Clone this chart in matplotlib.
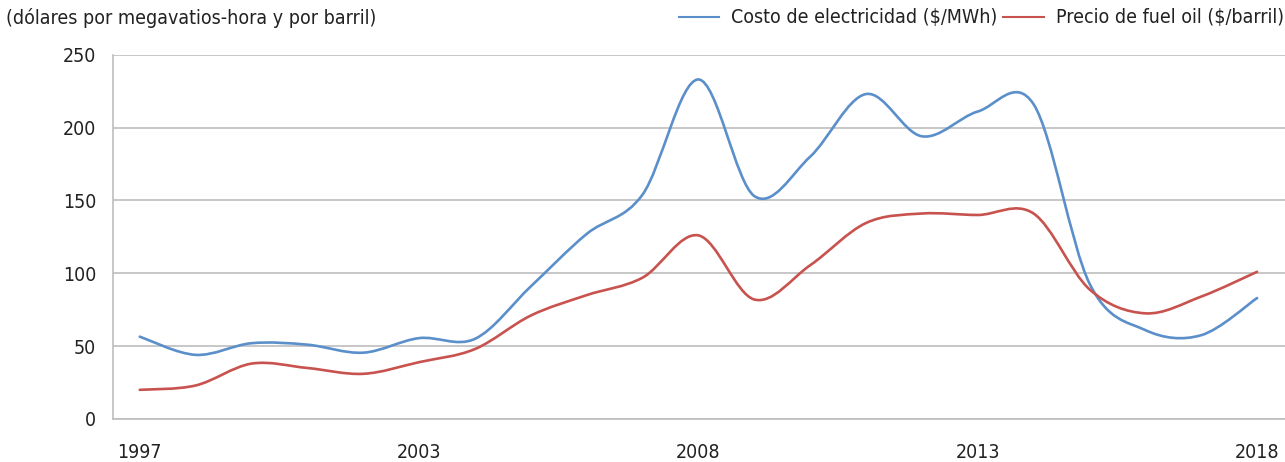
import matplotlib
matplotlib.use('Agg')
import matplotlib.pyplot as plt
from matplotlib.path import Path
from matplotlib.patches import PathPatch
from matplotlib.lines import Line2D
import numpy as np

plt.rcParams['font.family'] = ['Liberation Sans Narrow', 'DejaVu Sans']
plt.rcParams['font.stretch'] = 'condensed'

# category axis: 21 points, labelled every 5th
categories = ['1997', '', '', '', '', '2003', '', '', '', '', '2008',
              '', '', '', '', '2013', '', '', '', '', '2018']
electricidad = [56.5, 44, 52, 51, 45.5, 55.5, 55, 91, 127, 154, 233,
                153, 180, 223, 194, 211, 216, 93, 61, 57.5, 83]
fuel_oil = [20, 23, 38, 35, 31, 39, 48, 71, 85, 97, 126,
            82, 105.5, 134.5, 141, 140, 141, 89, 72.5, 84, 101]

blue = '#5b8fca'
red = '#c8524e'
grid_col = '#bdbdbd'
txt_col = '#222222'


def smooth_path(xs, ys):
    # excel-like smoothed line: cubic bezier through every point
    pts = np.column_stack([xs, ys]).astype(float)
    ext = np.vstack([pts[0], pts, pts[-1]])
    verts = [tuple(pts[0])]
    codes = [Path.MOVETO]
    for i in range(len(pts) - 1):
        p0, p1, p2, p3 = ext[i], ext[i + 1], ext[i + 2], ext[i + 3]
        c1 = p1 + (p2 - p0) / 6.0
        c2 = p2 - (p3 - p1) / 6.0
        verts += [tuple(c1), tuple(c2), tuple(p2)]
        codes += [Path.CURVE4] * 3
    return Path(verts, codes)


fig = plt.figure(figsize=(12.85, 4.62), dpi=100)
ax = fig.add_axes([0.0879, 0.0931, 0.9121, 0.7885])

x = np.arange(len(categories))
ax.add_patch(PathPatch(smooth_path(x, electricidad), fill=False,
                       edgecolor=blue, linewidth=1.9, capstyle='round'))
ax.add_patch(PathPatch(smooth_path(x, fuel_oil), fill=False,
                       edgecolor=red, linewidth=1.9, capstyle='round'))

ax.set_xlim(-0.48, len(categories) - 0.5)
ax.set_ylim(0, 250)
ax.set_yticks([0, 50, 100, 150, 200, 250])
ax.set_xticks(x)
ax.set_xticklabels(categories)
ax.tick_params(axis='both', length=0, labelsize=14, colors=txt_col)
ax.tick_params(axis='x', pad=17)
ax.tick_params(axis='y', pad=12)
ax.yaxis.grid(True, color=grid_col, linewidth=1.2)
ax.set_axisbelow(True)
for s in ['top', 'right']:
    ax.spines[s].set_visible(False)
ax.spines['left'].set_color(grid_col)
ax.spines['bottom'].set_color(grid_col)
ax.spines['left'].set_linewidth(1.2)
ax.spines['bottom'].set_linewidth(1.2)

fig.text(0.005, 1 - 18 / 462, '(dólares por megavatios-hora y por barril)',
         fontsize=14, color=txt_col, va='center', ha='left')

handles = [Line2D([], [], color=blue, linewidth=1.5),
           Line2D([], [], color=red, linewidth=1.5)]
fig.legend(handles, ['Costo de electricidad ($/MWh)', 'Precio de fuel oil ($/barril)'],
           loc='center right', bbox_to_anchor=(0.999, 1 - 18 / 462), ncol=2,
           frameon=False, fontsize=14, handlelength=2.1, handletextpad=0.6,
           columnspacing=0.3, borderaxespad=0, borderpad=0,
           labelcolor=txt_col)

fig.savefig('out.png', dpi=100)
